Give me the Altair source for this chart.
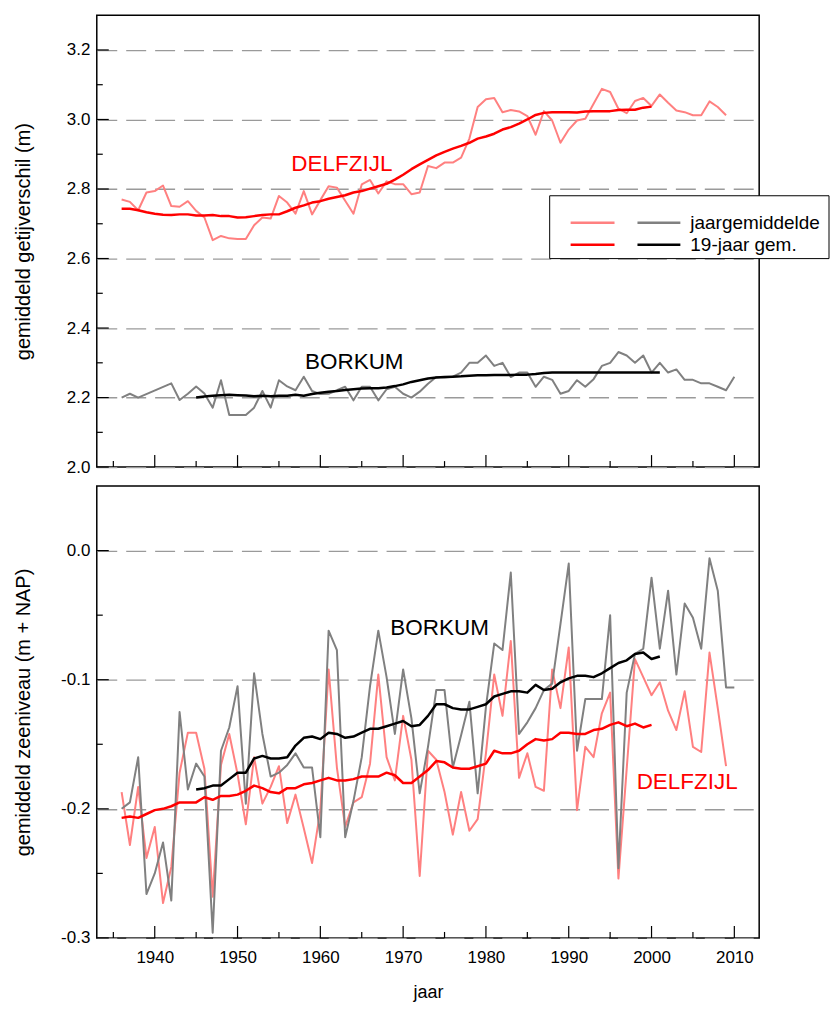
import altair as alt
import pandas as pd

# ---------------- data ----------------
years_delf = list(range(1936, 2010))          # Delfzijl annual values
years_delf_19 = list(range(1936, 2001))       # Delfzijl 19-year mean
years_bork = [1936, 1937, 1938] + list(range(1942, 2011))  # Borkum annual (top)
years_bork_all = list(range(1936, 2011))      # Borkum annual (bottom)
years_bork_19 = list(range(1945, 2002))       # Borkum 19-year mean

tide_delf = [2.770, 2.763, 2.739, 2.790, 2.794, 2.810, 2.751, 2.749, 2.765, 2.737,
             2.718, 2.653, 2.665, 2.658, 2.656, 2.656, 2.696, 2.718, 2.715, 2.780,
             2.761, 2.729, 2.794, 2.727, 2.768, 2.808, 2.804, 2.766, 2.729, 2.813,
             2.826, 2.787, 2.822, 2.814, 2.814, 2.785, 2.790, 2.866, 2.860, 2.876,
             2.876, 2.890, 2.945, 3.036, 3.058, 3.062, 3.021, 3.027, 3.023, 3.010,
             2.956, 3.024, 2.997, 2.933, 2.971, 2.997, 3.002, 3.045, 3.088, 3.079,
             3.031, 3.018, 3.053, 3.062, 3.039, 3.072, 3.048, 3.026, 3.021, 3.012,
             3.012, 3.052, 3.036, 3.012]
tide_delf_19 = [2.743, 2.743, 2.739, 2.733, 2.729, 2.726, 2.725, 2.727, 2.727, 2.724,
                2.724, 2.725, 2.722, 2.722, 2.718, 2.719, 2.722, 2.725, 2.727, 2.727,
                2.736, 2.746, 2.753, 2.761, 2.765, 2.772, 2.777, 2.782, 2.790, 2.794,
                2.801, 2.808, 2.815, 2.827, 2.841, 2.857, 2.871, 2.884, 2.897, 2.907,
                2.916, 2.924, 2.933, 2.945, 2.951, 2.959, 2.971, 2.978, 2.988, 3.000,
                3.013, 3.019, 3.021, 3.021, 3.021, 3.020, 3.023, 3.024, 3.024, 3.024,
                3.027, 3.028, 3.028, 3.034, 3.037]
tide_bork = [2.200, 2.211, 2.200,
             2.241, 2.193, 2.211, 2.232, 2.212, 2.171, 2.250, 2.150, 2.150,
             2.150, 2.171, 2.219, 2.171, 2.250, 2.232, 2.221, 2.260, 2.219, 2.210,
             2.211, 2.221, 2.231, 2.192, 2.231, 2.231, 2.192, 2.224, 2.231, 2.211,
             2.200, 2.217, 2.240, 2.259, 2.258, 2.260, 2.272, 2.300, 2.300, 2.321,
             2.291, 2.300, 2.259, 2.272, 2.272, 2.231, 2.260, 2.251, 2.211, 2.219,
             2.250, 2.231, 2.253, 2.291, 2.300, 2.331, 2.321, 2.300, 2.321, 2.272,
             2.300, 2.272, 2.281, 2.251, 2.251, 2.241, 2.241, 2.231, 2.221, 2.260]
tide_bork_19 = [2.200, 2.203, 2.205, 2.207, 2.208, 2.207, 2.206, 2.204, 2.205, 2.204,
                2.205, 2.205, 2.208, 2.205, 2.210, 2.214, 2.217, 2.219, 2.222, 2.224,
                2.226, 2.227, 2.227, 2.229, 2.233, 2.238, 2.245, 2.250, 2.255, 2.258,
                2.259, 2.260, 2.261, 2.263, 2.264, 2.264, 2.265, 2.265, 2.265, 2.266,
                2.266, 2.268, 2.271, 2.272, 2.272, 2.272, 2.272, 2.272, 2.272, 2.272,
                2.272, 2.272, 2.272, 2.272, 2.272, 2.272, 2.272]

sea_bork = [-0.200, -0.195, -0.160, -0.266, -0.250, -0.226, -0.271, -0.125, -0.185, -0.165,
            -0.175, -0.296, -0.155, -0.137, -0.105, -0.196, -0.095, -0.142, -0.175, -0.172,
            -0.166, -0.157, -0.168, -0.168, -0.222, -0.062, -0.077, -0.222, -0.194, -0.160,
            -0.105, -0.062, -0.098, -0.142, -0.092, -0.130, -0.188, -0.152, -0.108, -0.108,
            -0.168, -0.143, -0.117, -0.188, -0.121, -0.072, -0.077, -0.017, -0.142, -0.133,
            -0.122, -0.108, -0.103, -0.057, -0.010, -0.155, -0.115, -0.115, -0.115, -0.050,
            -0.246, -0.110, -0.080, -0.076, -0.021, -0.076, -0.031, -0.096, -0.041, -0.052,
            -0.076, -0.006, -0.031, -0.106, -0.106]
sea_delf = [-0.187, -0.228, -0.183, -0.238, -0.214, -0.273, -0.245, -0.172, -0.141, -0.141,
            -0.169, -0.268, -0.166, -0.142, -0.173, -0.212, -0.160, -0.196, -0.183, -0.167,
            -0.211, -0.189, -0.215, -0.242, -0.201, -0.092, -0.168, -0.214, -0.195, -0.191,
            -0.165, -0.096, -0.160, -0.178, -0.128, -0.162, -0.252, -0.155, -0.162, -0.187,
            -0.220, -0.187, -0.217, -0.208, -0.157, -0.096, -0.128, -0.070, -0.176, -0.157,
            -0.183, -0.186, -0.092, -0.122, -0.075, -0.201, -0.152, -0.160, -0.126, -0.110,
            -0.254, -0.169, -0.084, -0.098, -0.112, -0.102, -0.124, -0.139, -0.109, -0.152,
            -0.156, -0.079, -0.122, -0.167]
sea_delf_19 = [-0.207, -0.206, -0.207, -0.204, -0.201, -0.200, -0.198, -0.195, -0.195, -0.195,
               -0.191, -0.193, -0.190, -0.190, -0.189, -0.186, -0.182, -0.184, -0.187, -0.188,
               -0.184, -0.184, -0.181, -0.180, -0.178, -0.176, -0.178, -0.178, -0.177, -0.175,
               -0.175, -0.175, -0.172, -0.174, -0.180, -0.180, -0.175, -0.170, -0.163, -0.164,
               -0.168, -0.169, -0.169, -0.167, -0.165, -0.155, -0.157, -0.157, -0.155, -0.150,
               -0.146, -0.147, -0.146, -0.141, -0.141, -0.142, -0.142, -0.139, -0.138, -0.135,
               -0.133, -0.136, -0.134, -0.137, -0.135]
sea_bork_19 = [-0.185, -0.184, -0.182, -0.182, -0.177, -0.172, -0.172, -0.161, -0.159, -0.161,
               -0.161, -0.160, -0.151, -0.145, -0.144, -0.146, -0.141, -0.142, -0.145, -0.144,
               -0.141, -0.138, -0.138, -0.136, -0.134, -0.132, -0.136, -0.135, -0.128, -0.119,
               -0.119, -0.122, -0.123, -0.123, -0.121, -0.119, -0.113, -0.111, -0.109, -0.109,
               -0.110, -0.104, -0.108, -0.107, -0.102, -0.099, -0.097, -0.097, -0.098, -0.095,
               -0.091, -0.087, -0.085, -0.080, -0.079, -0.084, -0.082]

x_major = [1940, 1950, 1960, 1970, 1980, 1990, 2000, 2010]
x_minor = [1935, 1945, 1955, 1965, 1975, 1985, 1995, 2005]
top_y_major = [2.0, 2.2, 2.4, 2.6, 2.8, 3.0, 3.2]
top_y_minor = [2.1, 2.3, 2.5, 2.7, 2.9, 3.1]
bot_y_major = [-0.3, -0.2, -0.1, 0.0]
bot_y_minor = [-0.25, -0.15, -0.05]

top_labels = ["DELFZIJL", "BORKUM"]
top_label_x = [1962.6, 1964.1]
top_label_y = [2.872, 2.301]
bot_labels = ["BORKUM", "DELFZIJL"]
bot_label_x = [1974.4, 2004.3]
bot_label_y = [-0.0596, -0.1794]
label_colors = ["#ff0000", "#000000"]

legend_texts = ["jaargemiddelde", "19-jaar gem."]

# ---------------- chart ----------------
W, H = 664, 453
FONT = "Liberation Sans, Arial, sans-serif"
NARROW = "Liberation Sans Narrow, Arial Narrow, Liberation Sans, sans-serif"
C_LRED, C_RED, C_GRAY, C_BLACK = "#ff8080", "#ff0000", "#808080", "#000000"


def df(years, vals):
    return pd.DataFrame({"jaar": years, "v": vals})


def panel(ydom, ymaj, ymin, ytitle, series, labels, bottom, legend):
    xscale = alt.Scale(domain=[1933, 2013], nice=False, zero=False)
    yscale = alt.Scale(domain=ydom, nice=False, zero=False)
    if bottom:
        xaxis = alt.Axis(values=x_major, format="d", ticks=False, domain=False, grid=False,
                         labelFontSize=17, labelFont=NARROW, labelPadding=12,
                         title="jaar", titleFontSize=18, titleFont=NARROW,
                         titleFontWeight="normal", titleY=55, titleBaseline="middle")
    else:
        xaxis = None
    yaxis = alt.Axis(values=ymaj, ticks=False, domain=False, grid=True,
                     gridDash=[20, 9], gridColor="#9a9a9a", gridWidth=1.3,
                     labelExpr="replace(format(datum.value, '.1f'), '\u2212', '-')",
                     labelFontSize=17, labelFont=NARROW, labelPadding=7,
                     title=ytitle, titleFontSize=20, titleFont=FONT,
                     titleFontWeight="normal", titleX=-73, titleAngle=270,
                     titleBaseline="middle")

    def X():
        return alt.X("jaar:Q", scale=xscale, axis=xaxis)

    def Y():
        return alt.Y("v:Q", scale=yscale, axis=yaxis)

    layers = []
    for (d, color, width) in series:
        layers.append(alt.Chart(d).mark_line(color=color, strokeWidth=width,
                                             strokeJoin="round").encode(x=X(), y=Y()))
    # inward ticks
    layers.append(alt.Chart(pd.DataFrame({"v": ymaj})).mark_rule(color="black", strokeWidth=1.2)
                  .encode(y=Y(), x=alt.value(0), x2=alt.value(12)))
    layers.append(alt.Chart(pd.DataFrame({"v": ymin})).mark_rule(color="black", strokeWidth=1.2)
                  .encode(y=Y(), x=alt.value(0), x2=alt.value(6)))
    layers.append(alt.Chart(pd.DataFrame({"jaar": x_major})).mark_rule(color="black", strokeWidth=1.2)
                  .encode(x=X(), y=alt.value(H), y2=alt.value(H - 12)))
    layers.append(alt.Chart(pd.DataFrame({"jaar": x_minor})).mark_rule(color="black", strokeWidth=1.2)
                  .encode(x=X(), y=alt.value(H), y2=alt.value(H - 6)))
    # station labels
    lab = pd.DataFrame({"jaar": labels[1], "v": labels[2], "t": labels[0], "c": labels[3]})
    layers.append(alt.Chart(lab).mark_text(fontSize=22.5, font=FONT, align="center",
                                           baseline="middle")
                  .encode(x=X(), y=Y(), text="t:N",
                          color=alt.Color("c:N", scale=None)))
    if legend:
        one = pd.DataFrame({"a": [0]})
        layers.append(alt.Chart(one).mark_rect(fill="white", stroke="black", strokeWidth=1)
                      .encode(x=alt.value(454), x2=alt.value(734),
                              y=alt.value(181), y2=alt.value(244)))
        segs = pd.DataFrame({
            "x1": [475, 542, 475, 542], "x2": [519, 585, 519, 585],
            "yy": [208, 208, 230, 230],
            "c": [C_LRED, C_GRAY, C_RED, C_BLACK]})
        for i in range(4):
            layers.append(alt.Chart(segs.iloc[[i]]).mark_rule(
                color=segs["c"][i], strokeWidth=2.5)
                .encode(x=alt.value(int(segs["x1"][i])), x2=alt.value(int(segs["x2"][i])),
                        y=alt.value(int(segs["yy"][i]))))
        lt = pd.DataFrame({"t": legend_texts, "yy": [208, 230]})
        layers.append(alt.Chart(lt).mark_text(fontSize=19, font=FONT, align="left",
                                              baseline="middle", color="black")
                      .encode(x=alt.value(595), y=alt.Y("yy:Q", scale=None), text="t:N"))
    return alt.layer(*layers).properties(width=W, height=H)


top = panel([2.0, 3.3], top_y_major, top_y_minor, "gemiddeld getijverschil (m)",
            [(df(years_delf, tide_delf), C_LRED, 2), (df(years_bork, tide_bork), C_GRAY, 2),
             (df(years_delf_19, tide_delf_19), C_RED, 2.5),
             (df(years_bork_19, tide_bork_19), C_BLACK, 2.5)],
            (top_labels, top_label_x, top_label_y, label_colors), False, True)

bot = panel([-0.3, 0.05], bot_y_major, bot_y_minor, "gemiddeld zeeniveau (m + NAP)",
            [(df(years_delf, sea_delf), C_LRED, 2), (df(years_bork_all, sea_bork), C_GRAY, 2),
             (df(years_delf_19, sea_delf_19), C_RED, 2.5),
             (df(years_bork_19, sea_bork_19), C_BLACK, 2.5)],
            (bot_labels, bot_label_x, bot_label_y, label_colors[::-1]), True, False)

chart = alt.vconcat(top, bot, spacing=19, bounds="flush").properties(
    padding={"left": 5, "top": 5, "right": 0, "bottom": 0}
).configure_view(stroke="black", strokeWidth=1.5).configure_axis(labelColor="black",
                                                                  titleColor="black")

chart.save("out.html", embed_options={"renderer": "svg", "actions": False})
